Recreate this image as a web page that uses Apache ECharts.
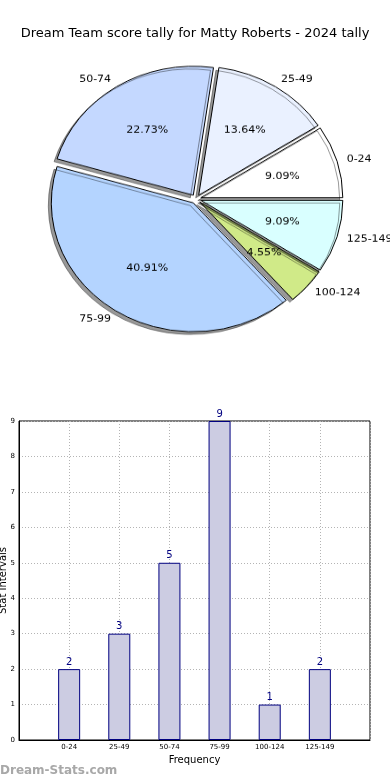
<!DOCTYPE html>
<html>
<head>
<meta charset="utf-8">
<script src="https://cdn.jsdelivr.net/npm/echarts@6/dist/echarts.min.js"></script>
<style>
  html, body { margin: 0; padding: 0; background: #fff; }
  #main { position: absolute; left: 0; top: 0; width: 390px; height: 780px; }
  #pie { position: absolute; left: 0; top: 0; width: 390px; height: 400px;
         transform: scaleY(0.908); transform-origin: 196px 199px; }
</style>
</head>
<body>
<div id="main"></div>
<div id="pie"></div>
<script>
const titleText = 'Dream Team score tally for Matty Roberts - 2024 tally';
const categories = ['0-24', '25-49', '50-74', '75-99', '100-124', '125-149'];
const counts = [2, 3, 5, 9, 1, 2];
const pieColors = ['#ffffff', '#eaf1ff', '#c4d8ff', '#b4d4ff', '#d0ea88', '#d9ffff'];
const yAxisName = 'Stat Intervals';
const xAxisName = 'Frequency';
const watermark = 'Dream-Stats.com';

const total = counts.reduce((a, b) => a + b, 0);
const FONT = 'DejaVu Sans';

// ---------- Pie ----------
const pieData = categories.map((c, i) => ({
  name: c, value: counts[i], selected: true,
  itemStyle: { color: pieColors[i] }
}));
const pieLabelData = categories.map((c, i) => ({
  name: c, value: counts[i], selected: true
}));

const pie = echarts.init(document.getElementById('pie'));
pie.setOption({
  animation: false,
  series: [
    {
      type: 'pie',
      center: [196, 199],
      radius: [0, 142],
      startAngle: 0,
      clockwise: false,
      selectedMode: 'multiple',
      selectedOffset: 5,
      avoidLabelOverlap: false,
      minShowLabelAngle: 0,
      emphasis: { disabled: true },
      itemStyle: {
        borderColor: '#000', borderWidth: 1,
        shadowColor: 'rgba(0,0,0,0.4)', shadowBlur: 0,
        shadowOffsetX: -3, shadowOffsetY: 3
      },
      select: { itemStyle: { borderColor: '#000', borderWidth: 1 } },
      label: {
        show: true, position: 'outside', formatter: '{b}',
        fontFamily: FONT, fontSize: 11, color: '#000',
        distanceToLabelLine: 0
      },
      labelLine: { show: false, length: 10, length2: 0 },
      data: pieData
    },
    {
      type: 'pie',
      center: [196, 199],
      radius: [22, 142],
      startAngle: 0,
      clockwise: false,
      selectedMode: 'multiple',
      selectedOffset: 5,
      avoidLabelOverlap: false,
      minShowLabelAngle: 0,
      silent: true,
      emphasis: { disabled: true },
      itemStyle: { color: 'rgba(0,0,0,0)', borderWidth: 0 },
      select: { itemStyle: { color: 'rgba(0,0,0,0)', borderWidth: 0 } },
      label: {
        show: true, position: 'inside',
        formatter: p => (p.value / total * 100).toFixed(2) + '%',
        fontFamily: FONT, fontSize: 11, color: '#000'
      },
      labelLine: { show: false },
      data: pieLabelData
    }
  ]
});

// ---------- Bar ----------
const barData = counts.map((v, i) => [i, v]);
const main = echarts.init(document.getElementById('main'));
const gridLine = { show: true, lineStyle: { color: '#b4b4b4', type: [1, 2], width: 1 } };
main.setOption({
  animation: false,
  title: {
    text: titleText, left: 'center', top: 22,
    textStyle: { fontFamily: FONT, fontSize: 13, fontWeight: 'normal', color: '#000' }
  },
  graphic: [{
    type: 'text', left: 0, top: 765,
    style: { text: watermark, fontFamily: FONT, fontSize: 12, fontWeight: 'bold', fill: '#a8a8a8' }
  }],
  grid: { left: 19, right: 20, top: 421, bottom: 40, show: true,
          containLabel: false, outerBoundsMode: 'none',
          borderColor: '#000', borderWidth: 1, backgroundColor: 'transparent' },
  xAxis: {
    type: 'value', min: -1, max: 6, interval: 1,
    name: xAxisName, nameLocation: 'middle', nameGap: 15, nameMoveOverlap: false,
    nameTextStyle: { fontFamily: FONT, fontSize: 10, color: '#000' },
    axisLine: { show: true, onZero: false, lineStyle: { color: '#000' } },
    axisTick: { show: false },
    axisLabel: {
      fontFamily: FONT, fontSize: 7, color: '#000', margin: 4,
      formatter: v => (v >= 0 && v < categories.length) ? categories[v] : ''
    },
    splitLine: gridLine
  },
  yAxis: {
    type: 'value', min: 0, max: 9, interval: 1,
    name: yAxisName, nameLocation: 'middle', nameGap: 11, nameRotate: 90, nameMoveOverlap: false,
    nameTextStyle: { fontFamily: FONT, fontSize: 10, color: '#000' },
    axisLine: { show: true, onZero: false, lineStyle: { color: '#000' } },
    axisTick: { show: false },
    axisLabel: { fontFamily: FONT, fontSize: 7, color: '#000', margin: 4 },
    splitLine: gridLine
  },
  series: [{
    type: 'bar',
    data: barData,
    barWidth: 22,
    itemStyle: { color: '#ccccE2', borderColor: '#000080', borderWidth: 1 },
    label: { show: true, position: 'top', distance: 2, fontFamily: FONT, fontSize: 10, color: '#000080',
             formatter: p => p.value[1] }
  }]
});
</script>
</body>
</html>
